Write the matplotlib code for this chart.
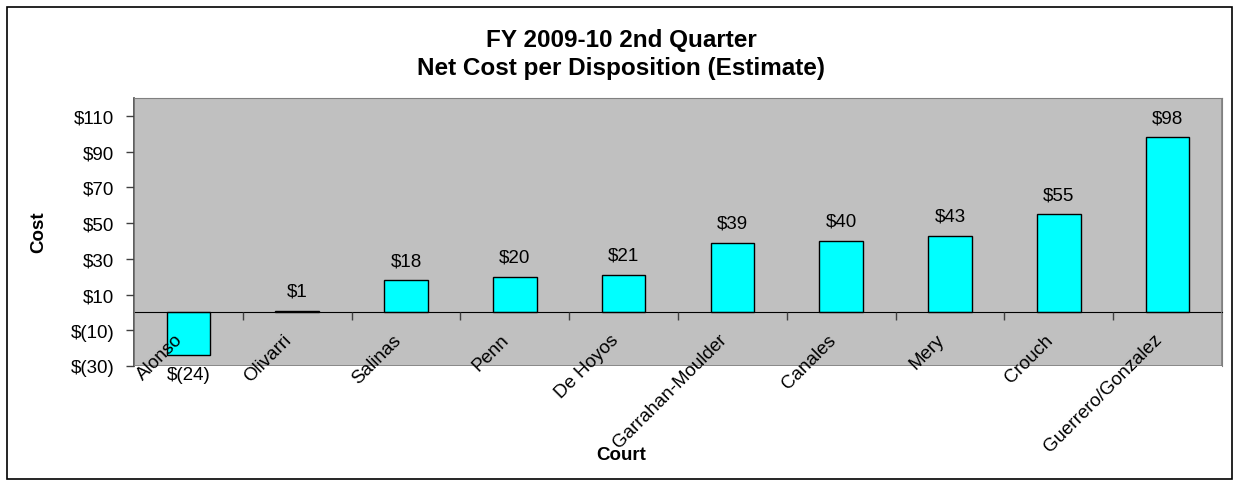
import matplotlib
matplotlib.use("Agg")
import matplotlib.pyplot as plt
from matplotlib.patches import Rectangle
from matplotlib.ticker import FixedLocator
from matplotlib.transforms import ScaledTranslation

courts = ["Alonso", "Olivarri", "Salinas", "Penn", "De Hoyos", "Garrahan-Moulder",
          "Canales", "Mery", "Crouch", "Guerrero/Gonzalez"]
costs = [-24, 1, 18, 20, 21, 39, 40, 43, 55, 98]
yticks = [-30, -10, 10, 30, 50, 70, 90, 110]

plt.rcParams['font.family'] = ['Liberation Sans', 'DejaVu Sans']

W, H = 1236, 481
fig = plt.figure(figsize=(W / 100, H / 100), dpi=100)
fig.patches.append(Rectangle((7 / W, 1 / H), (1232 - 7) / W, (481 - 8 - 1) / H,
                             transform=fig.transFigure, fill=False,
                             edgecolor='black', linewidth=1.2))

ax = fig.add_axes([134 / W, 1 - 367 / H, (1222 - 134) / W, (367 - 99) / H])
ax.set_facecolor('#C0C0C0')
x = list(range(len(courts)))
ax.bar(x, costs, width=0.4, color='#00FFFF', edgecolor='black', linewidth=1.0, zorder=2)

ax.set_xlim(-0.5, len(courts) - 0.5)
ax.set_ylim(-30, 120)

def fmt(v):
    return f"$({abs(v)})" if v < 0 else f"${v}"

for xi, v in zip(x, costs):
    if v >= 0:
        ax.annotate(fmt(v), (xi, v), xytext=(0, 8), textcoords='offset points',
                    ha='center', va='bottom', fontsize=13.5, zorder=6)
    else:
        ax.annotate(fmt(v), (xi, v), xytext=(0, -8), textcoords='offset points',
                    ha='center', va='top', fontsize=13.5, zorder=6)

ax.set_yticks(yticks)
ax.set_yticklabels([fmt(t) for t in yticks], fontsize=13.5)
ax.tick_params(axis='y', direction='out', length=6, width=1, color='#404040', pad=8)

for s in ['top', 'right']:
    ax.spines[s].set_color('#808080')
ax.spines['left'].set_color('#404040')
ax.spines['left'].set_linewidth(1.2)
ax.spines['bottom'].set_position(('data', 0))
ax.spines['bottom'].set_color('black')
ax.spines['bottom'].set_zorder(4)
ax.add_patch(Rectangle((0, 0), 1, 1, transform=ax.transAxes, fill=False,
                       edgecolor='#808080', linewidth=1.2, zorder=5))

ax.set_xticks(x)
ax.set_xticklabels(courts, rotation=45, ha='right', rotation_mode='anchor', fontsize=13.5)
ax.tick_params(axis='x', which='major', length=0, pad=6)
ax.xaxis.set_minor_locator(FixedLocator([i + 0.5 for i in x[:-1]]))
ax.tick_params(axis='x', which='minor', direction='out', length=6, width=1, color='#404040')
ax.xaxis.set_zorder(5)
shift = ScaledTranslation(-14 / 100, -10 / 100, fig.dpi_scale_trans)
for lbl in ax.get_xticklabels():
    lbl.set_transform(lbl.get_transform() + shift)

fig.text(621 / W, 1 - 40 / H, "FY 2009-10 2nd Quarter", ha='center', va='center',
         fontsize=17.5, fontweight='bold')
fig.text(621 / W, 1 - 68 / H, "Net Cost per Disposition (Estimate)", ha='center', va='center',
         fontsize=17.5, fontweight='bold')
fig.text(39 / W, 1 - 232 / H, "Cost", ha='center', va='center', rotation=90,
         fontsize=13.5, fontweight='bold')
fig.text(621 / W, 1 - 456 / H, "Court", ha='center', va='center',
         fontsize=13.5, fontweight='bold')

fig.savefig("out.png", dpi=100)
